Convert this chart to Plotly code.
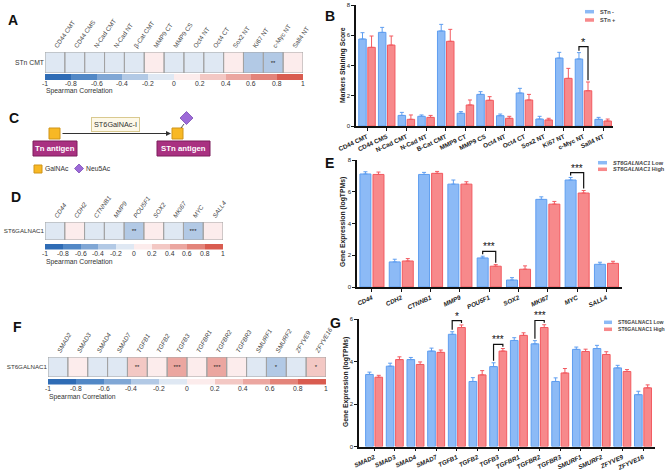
import plotly.graph_objects as go

W, H = 669, 471
FONT = "Arial, Liberation Sans, Helvetica, sans-serif"

# ---------------- DATA ----------------
# Panel A heatmap (Spearman correlation with STn CMT)
a_labels = ["CD44 CMT", "CD44 CMS", "N-Cad CMT", "N-Cad NT", "β-Cat CMT", "MMP9 CT", "MMP9 CS",
            "Oct4 NT", "Oct4 CT", "Sox2 NT", "Ki67 NT", "c-Myc NT", "Sall4 NT"]
a_rho = [-0.1, -0.1, -0.1, -0.1, -0.1, 0.1, -0.1, -0.1, -0.1, 0.1, -0.3, -0.3, 0.1]
a_sig = ["", "", "", "", "", "", "", "", "", "", "", "**", ""]
a_row = "STn CMT"

# Panel B bars
b_labels = ["CD44 CMT", "CD44 CMS", "N-Cad CMT", "N-Cad NT", "B-Cat CMT", "MMP9 CT", "MMP9 CS",
            "Oct4 NT", "Oct4 CT", "Sox2 NT", "Ki67 NT", "c-Myc NT", "Sall4 NT"]
b_neg = [5.75, 6.19, 0.70, 0.64, 6.28, 0.84, 2.09, 0.68, 2.18, 0.46, 4.49, 4.43, 0.44]
b_neg_err = [0.42, 0.33, 0.20, 0.09, 0.44, 0.11, 0.18, 0.11, 0.31, 0.18, 0.38, 0.42, 0.13]
b_pos = [5.20, 5.35, 0.44, 0.57, 5.60, 1.39, 1.70, 0.51, 1.72, 0.40, 3.15, 2.33, 0.33]
b_pos_err = [0.75, 0.60, 0.29, 0.13, 0.79, 0.33, 0.24, 0.13, 0.37, 0.11, 0.66, 0.58, 0.13]
b_names = ["STn -", "STn +"]
b_sig = {11: "*"}

# Panel D heatmap
d_labels = ["CD44", "CDH2", "CTNNB1", "MMP9", "POU5F1", "SOX2", "MKI67", "MYC", "SALL4"]
d_rho = [-0.1, 0.1, -0.1, -0.1, -0.3, 0.1, -0.1, -0.3, 0.1]
d_sig = ["", "", "", "", "**", "", "", "***", ""]
d_row = "ST6GALNAC1"

# Panel E bars
e_labels = ["CD44", "CDH2", "CTNNB1", "MMP9", "POU5F1", "SOX2", "MKI67", "MYC", "SALL4"]
e_low = [7.12, 1.58, 7.09, 6.48, 1.83, 0.44, 5.52, 6.74, 1.43]
e_low_err = [0.14, 0.17, 0.13, 0.26, 0.11, 0.15, 0.16, 0.16, 0.13]
e_high = [7.09, 1.64, 7.16, 6.48, 1.31, 1.12, 5.22, 5.92, 1.49]
e_high_err = [0.15, 0.15, 0.12, 0.15, 0.10, 0.21, 0.17, 0.16, 0.13]
e_names = ["<i>ST6GALNAC1</i> Low", "<i>ST6GALNAC1</i> High"]
e_sig = {4: "***", 7: "***"}

# Panel F heatmap
f_labels = ["SMAD2", "SMAD3", "SMAD4", "SMAD7", "TGFB1", "TGFB2", "TGFB3", "TGFBR1", "TGFBR2",
            "TGFBR3", "SMURF1", "SMURF2", "ZFYVE9", "ZFYVE16"]
f_rho = [-0.1, 0.1, -0.1, -0.1, 0.3, 0.1, 0.45, 0.1, 0.45, 0.1, -0.1, -0.3, -0.1, 0.3]
f_sig = ["", "", "", "", "**", "", "***", "", "***", "", "", "*", "", "*"]
f_row = "ST6GALNAC1"

# Panel G bars
g_labels = f_labels
g_low = [3.39, 3.78, 4.09, 4.49, 5.28, 3.06, 3.76, 4.99, 4.83, 3.06, 4.57, 4.61, 3.70, 2.44]
g_low_err = [0.11, 0.14, 0.10, 0.14, 0.12, 0.18, 0.18, 0.13, 0.15, 0.17, 0.11, 0.15, 0.12, 0.16]
g_high = [3.26, 4.09, 3.86, 4.43, 5.60, 3.37, 4.49, 5.23, 5.60, 3.46, 4.47, 4.33, 3.53, 2.76]
g_high_err = [0.09, 0.13, 0.12, 0.11, 0.12, 0.20, 0.12, 0.12, 0.13, 0.21, 0.11, 0.13, 0.09, 0.14]
g_names = ["ST6GALNAC1 Low", "ST6GALNAC1 High"]
g_sig = {4: "*", 6: "***", 8: "***"}

cbar_ticks = [-1, -0.8, -0.6, -0.4, -0.2, 0, 0.2, 0.4, 0.6, 0.8, 1]
cbar_centers = [-0.9, -0.7, -0.5, -0.3, -0.1, 0.1, 0.3, 0.5, 0.7, 0.9]
bin_colors = ["#2f6cb5", "#5288c6", "#80a7d5", "#b2c9e5", "#dfe8f3",
              "#fcecec", "#f3c8c4", "#eba6a0", "#e3847a", "#d95c50"]

# ---------------- HELPERS ----------------
def xd(a, b):
    return [a / W, b / W]

def yd(top, bottom):
    return [1 - bottom / H, 1 - top / H]

def px(x):
    return x / W

def py(y):
    return 1 - y / H

colorscale = []
for k, c in enumerate(bin_colors):
    colorscale.append([k / 10, c])
    colorscale.append([(k + 1) / 10, c])

BLUE_FILL, BLUE_LINE = "#8cbaf6", "#5f9ef0"
RED_FILL, RED_LINE = "#f7898b", "#f25a60"

fig = go.Figure()
layout = dict(template="none", width=W, height=H, margin=dict(l=0, r=0, t=0, b=0, autoexpand=False),
              paper_bgcolor="white", plot_bgcolor="white",
              font=dict(family=FONT, color="#222"), showlegend=False)
shapes = []
annotations = []


def note(text, x, y, size, color="#333", xanchor="center", yanchor="middle", **kw):
    d = dict(text=text, x=x, y=y, xref="paper", yref="paper", showarrow=False, xanchor=xanchor,
             yanchor=yanchor, font=dict(size=size, color=color, family=FONT))
    d.update(kw)
    annotations.append(d)


def heat_panel(n_ax, cb_ax, labels, rho, sig, row, xdom, ydom, cbydom, italic, tick_y, spear_y, angle,
               rowsize):
    xs = f"x{n_ax}"
    ys = f"y{n_ax}"
    fig.add_trace(go.Heatmap(
        z=[rho], x=list(range(len(labels))), y=[0], text=[sig], texttemplate="%{text}",
        textfont=dict(size=6, color="#222"), colorscale=colorscale, zmin=-1, zmax=1,
        showscale=False, xaxis=xs, yaxis=ys, hoverinfo="skip"))
    tt = [f"<i>{l}</i>" if italic else l for l in labels]
    layout[f"xaxis{n_ax}"] = dict(domain=xdom, anchor=ys, side="top", tickvals=list(range(len(labels))),
                                  ticktext=tt, tickangle=angle, range=[-0.5, len(labels) - 0.5],
                                  showgrid=False, zeroline=False, ticks="", showline=False, automargin=False,
                                  tickfont=dict(size=6.3, color="#444"))
    layout[f"yaxis{n_ax}"] = dict(domain=ydom, anchor=xs, tickvals=[0], ticktext=[row], range=[-0.5, 0.5],
                                  showgrid=False, zeroline=False, ticks="", showline=False, automargin=False,
                                  tickfont=dict(size=rowsize, color="#333"))
    for i in range(len(labels)):
        shapes.append(dict(type="rect", xref=xs, yref=ys, x0=i - 0.5, x1=i + 0.5, y0=-0.5, y1=0.5,
                           line=dict(color="#a3a3a3", width=1), layer="above"))
    # colour bar
    xc = f"x{cb_ax}"
    yc = f"y{cb_ax}"
    fig.add_trace(go.Heatmap(z=[cbar_centers], x=cbar_centers, y=[0], colorscale=colorscale,
                             zmin=-1, zmax=1, showscale=False, xaxis=xc, yaxis=yc, hoverinfo="skip"))
    layout[f"xaxis{cb_ax}"] = dict(domain=xdom, anchor=yc, range=[-1, 1], showticklabels=False, ticks="",
                                   showline=False, showgrid=False, zeroline=False, automargin=False)
    layout[f"yaxis{cb_ax}"] = dict(domain=cbydom, anchor=xc, range=[-0.5, 0.5], visible=False)
    for v in cbar_ticks:
        annotations.append(dict(text=f"{v:g}", x=v, y=py(tick_y), xref=xc, yref="paper", showarrow=False,
                                xanchor="center", yanchor="middle", font=dict(size=6.8, color="#333")))
    note("Spearman Correlation", xdom[0] - 1 / W, py(spear_y), 6.8, xanchor="left")


def bar_panel(n_ax, labels, v1, e1, v2, e2, names, xdom, ydom, xrange, yrange, dtick,
              width, off1, off2, italic, sig, d1, ytitle, ytitle_xy, leg, sigsize, legsize):
    xs = f"x{n_ax}"
    ys = f"y{n_ax}"
    n = len(labels)
    xi = list(range(n))
    fig.add_trace(go.Bar(x=xi, y=v1, width=width, offset=off1, name=names[0],
                         marker=dict(color=BLUE_FILL, line=dict(color=BLUE_LINE, width=1)),
                         error_y=dict(type="data", array=e1, arrayminus=[0] * n, symmetric=False,
                                      color=BLUE_LINE, thickness=1, width=2),
                         xaxis=xs, yaxis=ys))
    fig.add_trace(go.Bar(x=xi, y=v2, width=width, offset=off2, name=names[1],
                         marker=dict(color=RED_FILL, line=dict(color=RED_LINE, width=1)),
                         error_y=dict(type="data", array=e2, arrayminus=[0] * n, symmetric=False,
                                      color=RED_LINE, thickness=1, width=2),
                         xaxis=xs, yaxis=ys))
    # significance brackets
    bx, by = [], []
    pad = (yrange[1] - yrange[0]) * 0.015
    for i, s in sig.items():
        c1 = i + off1 + width / 2
        c2 = i + off2 + width / 2
        t1 = v1[i] + e1[i]
        t2 = v2[i] + e2[i]
        top = max(t1, t2) + d1
        bx += [c1, c1, c2, c2, None]
        by += [t1 + pad, top, top, t2 + pad, None]
        annotations.append(dict(text=s, x=(c1 + c2) / 2, y=top, xref=xs, yref=ys, showarrow=False,
                                xanchor="center", yanchor="bottom", yshift=-3,
                                font=dict(size=sigsize, color="#111", family=FONT)))
    fig.add_trace(go.Scatter(x=bx, y=by, mode="lines", line=dict(color="#111", width=1.2),
                             hoverinfo="skip", xaxis=xs, yaxis=ys))
    if italic:
        tt = [f"<b><i>{l}</i></b>" for l in labels]
    else:
        tt = [f"<b>{l}</b>" for l in labels]
    layout[f"xaxis{n_ax}"] = dict(domain=xdom, anchor=ys, tickvals=xi, ticktext=tt, tickangle=-25,
                                  range=xrange, ticks="outside", ticklen=3, tickwidth=1, tickcolor="#111",
                                  showline=True, linecolor="#111", linewidth=1.5, showgrid=False,
                                  zeroline=False, automargin=False, tickfont=dict(size=6.3, color="#222"))
    layout[f"yaxis{n_ax}"] = dict(domain=ydom, anchor=xs, range=yrange, dtick=dtick, ticks="outside",
                                  ticklen=3, tickwidth=1, tickcolor="#111", showline=True, linecolor="#111",
                                  linewidth=1.5, showgrid=False, zeroline=False, automargin=False,
                                  tickfont=dict(size=6, color="#222"))
    note(f"<b>{ytitle}</b>", px(ytitle_xy[0]), py(ytitle_xy[1]), 6.8, color="#222", textangle=-90)
    # legend (swatch + label)
    sx0, sx1, tx, ly1, ly2 = leg
    for (lyy, col, name) in [(ly1, BLUE_FILL, names[0]), (ly2, RED_FILL, names[1])]:
        shapes.append(dict(type="line", xref="paper", yref="paper", x0=px(sx0), x1=px(sx1),
                           y0=py(lyy), y1=py(lyy), line=dict(color=col, width=3.5)))
        note(f"<b>{name}</b>", px(tx), py(lyy), legsize, color="#444", xanchor="left")


# ---------------- PANELS ----------------
heat_panel(1, 2, a_labels, a_rho, a_sig, a_row, xd(45, 303), yd(52, 73), yd(74, 80), False, 83.5, 91,
           -55, 6.8)
bar_panel(3, b_labels, b_neg, b_neg_err, b_pos, b_pos_err, b_names,
          xd(356, 613), yd(5, 126), [-0.56, 12.5], [0, 8], 2, 0.38, -0.42, 0.04, False, b_sig, 0.4,
          "Markers Staining Score", (343, 65), (585, 594, 598, 11.7, 20), 11, 5.6)
heat_panel(4, 5, d_labels, d_rho, d_sig, d_row, xd(45, 223), yd(222, 240), yd(244, 249.5), True, 253.5,
           262, -55, 6.2)
bar_panel(6, e_labels, e_low, e_low_err, e_high, e_high_err, e_names,
          xd(357, 622), yd(160, 287), [-0.51, 8.53], [0, 8], 2, 0.375, -0.41, 0.035, True, e_sig, 0.3,
          "Gene Expression (logTPMs)", (343, 222), (598, 607, 611, 162.7, 169.3), 10, 5.6)
heat_panel(7, 8, f_labels, f_rho, f_sig, f_row, xd(48, 326), yd(357, 377), yd(379, 384.5), True, 388.5,
           397, -60, 6.2)
bar_panel(9, g_labels, g_low, g_low_err, g_high, g_high_err, g_names,
          xd(359, 655), yd(319, 446.5), [-0.73, 13.58], [0, 6], 2, 0.37, -0.41, 0.04, True, g_sig, 0.2,
          "Gene Expression (logTPMs)", (346, 382), (604, 612, 616, 322.3, 329.3), 10, 5.1)

# ---------------- PANEL C DIAGRAM ----------------
ORANGE, ORANGE_LINE = "#f8b824", "#cf9418"
PURPLE = "#9d6ad8"
MAGENTA, MAGENTA_LINE = "#a93181", "#7c1f5d"

def rect(x0, y0, x1, y1, fill, line, lw=1):
    shapes.append(dict(type="rect", xref="paper", yref="paper", x0=px(x0), x1=px(x1), y0=py(y1), y1=py(y0),
                       fillcolor=fill, line=dict(color=line, width=lw), layer="above"))

def diamond(cx, cy, r, fill):
    path = (f"M {px(cx)} {py(cy - r)} L {px(cx + r)} {py(cy)} L {px(cx)} {py(cy + r)} "
            f"L {px(cx - r)} {py(cy)} Z")
    shapes.append(dict(type="path", xref="paper", yref="paper", path=path, fillcolor=fill,
                       line=dict(color="#7b4cb5", width=0.8), layer="above"))

rect(49, 128, 60, 139, ORANGE, ORANGE_LINE)
rect(172, 128, 183, 139, ORANGE, ORANGE_LINE)
shapes.append(dict(type="line", xref="paper", yref="paper", x0=px(181), y0=py(128), x1=px(184), y1=py(124),
                   line=dict(color="#555", width=1)))
diamond(186.5, 118, 6.5, PURPLE)
annotations.append(dict(x=px(171), y=py(133.5), ax=-110, ay=0, xref="paper", yref="paper", text="",
                        showarrow=True, arrowhead=2, arrowsize=1, arrowwidth=1, arrowcolor="#333"))
note("ST6GalNAc-I", px(115.5), py(125), 7.3, bgcolor="#fdf8e8", bordercolor="#d9c98f", borderwidth=1,
     borderpad=2)
rect(33, 141, 77, 156, MAGENTA, MAGENTA_LINE)
rect(157, 141, 210, 156, MAGENTA, MAGENTA_LINE)
note("<b>Tn antigen</b>", px(55), py(148.5), 7.8, color="white")
note("<b>STn antigen</b>", px(183.5), py(148.5), 7.8, color="white")
rect(34, 165, 42, 173, ORANGE, ORANGE_LINE)
note("GalNAc", px(43.5), py(169), 6.8, xanchor="left")
diamond(79, 168.5, 4.5, PURPLE)
note("Neu5Ac", px(84), py(169), 6.8, xanchor="left")

# ---------------- PANEL LETTERS ----------------
for letter, (lx, ly) in {"A": (13, 20), "B": (330, 16), "C": (14, 118), "D": (16, 197),
                         "E": (329, 163), "F": (17, 327), "G": (335, 323)}.items():
    note(f"<b>{letter}</b>", px(lx), py(ly), 14, color="#111")

layout["shapes"] = shapes
layout["annotations"] = annotations
fig.update_layout(**layout)
fig.write_html("out.html")
